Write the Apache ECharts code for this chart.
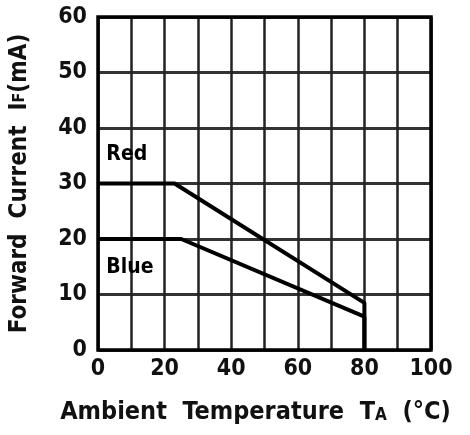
<!DOCTYPE html>
<html>
<head>
<meta charset="utf-8">
<script src="https://cdn.jsdelivr.net/npm/echarts@6/dist/echarts.min.js"></script>
<style>
  html, body { margin: 0; padding: 0; background: #fff; }
  #chart { width: 470px; height: 435px; }
</style>
</head>
<body>
<div id="chart"></div>
<script>
  // derating curves: temperature (°C) vs max forward current (mA)
  const redTemp = [0, 23, 80, 80]
  const redCurrent = [30, 30, 8.5, 0]
  const blueTemp = [0, 25, 80, 80]
  const blueCurrent = [20, 20, 6, 0]
  const seriesLabels = ['Red', 'Blue']
  const labelTemp = [2.5, 2.5]
  const labelCurrent = [35.3, 14.8]

  const font = '"DejaVu Sans Condensed", "DejaVu Sans", sans-serif'
  const toPairs = (xs, ys) => xs.map((x, i) => [x, ys[i]])

  const chart = echarts.init(document.getElementById('chart'))
  const lineStyle = { color: '#000', width: 4 }

  chart.setOption({
    animation: false,
    grid: { left: 98, right: 39, top: 17, bottom: 85, outerBoundsMode: 'none', containLabel: false },
    xAxis: {
      type: 'value',
      min: 0,
      max: 100,
      interval: 20,
      name: 'Ambient  Temperature  T{s|A}  (°C)',
      nameLocation: 'middle',
      nameGap: 50,
      nameTextStyle: {
        fontFamily: font, fontSize: 25, fontWeight: 'bold', color: '#111', padding: [0, 18, 0, 0],
        rich: { s: { fontFamily: font, fontSize: 17, fontWeight: 'bold', color: '#111', padding: [6, 0, 0, 0] } }
      },
      axisLine: { show: false },
      axisTick: { show: false },
      axisLabel: { fontFamily: font, fontSize: 23, fontWeight: 'bold', color: '#111', margin: 8 },
      minorTick: { show: false, splitNumber: 2 },
      minorSplitLine: { show: true, lineStyle: { color: '#222', width: 2.5 } },
      splitLine: { show: true, lineStyle: { color: '#222', width: 2.5 } }
    },
    yAxis: {
      type: 'value',
      min: 0,
      max: 60,
      interval: 10,
      name: 'Forward  Current  I{s|F}(mA)',
      nameLocation: 'middle',
      nameGap: 66,
      nameTextStyle: {
        fontFamily: font, fontSize: 24, fontWeight: 'bold', color: '#111',
        rich: { s: { fontFamily: font, fontSize: 16, fontWeight: 'bold', color: '#111' } }
      },
      axisLine: { show: false },
      axisTick: { show: false },
      axisLabel: { fontFamily: font, fontSize: 23, fontWeight: 'bold', color: '#111', margin: 11 },
      splitLine: { show: true, lineStyle: { color: '#333', width: 3 } }
    },
    series: [
      {
        type: 'line',
        data: toPairs(redTemp, redCurrent),
        symbol: 'none',
        lineStyle,
        z: 5
      },
      {
        type: 'line',
        data: toPairs(blueTemp, blueCurrent),
        symbol: 'none',
        lineStyle,
        z: 5
      },
      {
        type: 'scatter',
        symbolSize: 0,
        itemStyle: { opacity: 1 },
        data: toPairs(labelTemp, labelCurrent).map((p, i) => ({ value: p, name: seriesLabels[i] })),
        label: {
          show: true,
          position: 'right',
          distance: 0,
          formatter: p => p.name,
          fontFamily: font,
          fontSize: 21,
          fontWeight: 'bold',
          color: '#000'
        },
        z: 6
      }
    ]
  })

  // thick outer frame drawn on the grid rectangle
  const rect = chart.getModel().getComponent('grid').coordinateSystem.getRect()
  chart.setOption({
    graphic: [{
      type: 'rect',
      shape: { x: rect.x, y: rect.y, width: rect.width, height: rect.height },
      style: { fill: 'none', stroke: '#000', lineWidth: 3.5 },
      z: 10
    }]
  })
</script>
</body>
</html>
